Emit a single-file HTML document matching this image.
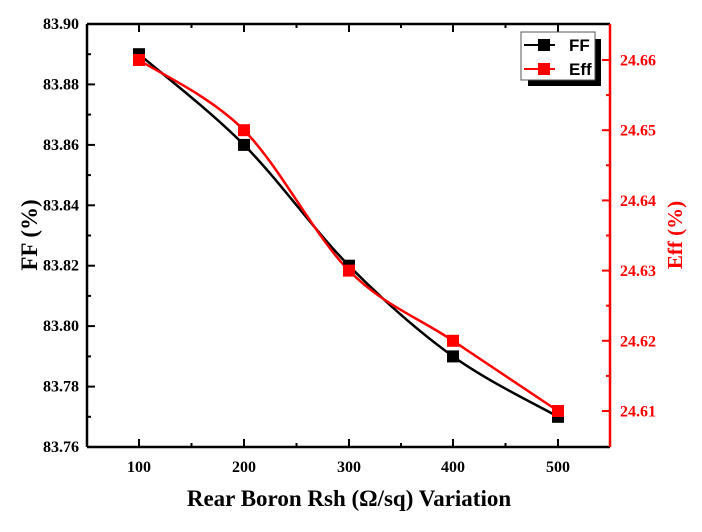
<!DOCTYPE html>
<html><head><style>body{margin:0;background:#fff}svg{display:block}</style></head><body>
<svg width="702" height="532" xmlns="http://www.w3.org/2000/svg" font-family="Liberation Serif, serif" font-weight="bold">
<rect width="702" height="532" fill="#fff"/>
<path d="M139,54.2 C156.5,69.3 209,109.65 244,144.9 C279,180.15 314.2,230.45 349,265.7 C383.8,300.95 418.2,331.2 453,356.4 C487.8,381.6 540.5,406.7 558,416.8" fill="none" stroke="#000" stroke-width="2.5"/>
<path d="M139,60 C156.5,71.7 209,95.1 244,130.2 C279,165.3 314.2,235.5 349,270.6 C383.8,305.7 418.2,317.4 453,340.8 C487.8,364.2 540.5,399.3 558,411" fill="none" stroke="#f00" stroke-width="2.5"/>
<g fill="#000">
<rect x="133" y="48.2" width="12" height="12"/><rect x="238" y="138.9" width="12" height="12"/><rect x="343" y="259.7" width="12" height="12"/><rect x="447" y="350.4" width="12" height="12"/><rect x="552" y="410.8" width="12" height="12"/>
</g>
<g fill="#f00">
<rect x="133" y="54" width="12" height="12"/><rect x="238" y="124.2" width="12" height="12"/><rect x="343" y="264.6" width="12" height="12"/><rect x="447" y="334.8" width="12" height="12"/><rect x="552" y="405" width="12" height="12"/>
</g>
<g stroke="#000" stroke-width="2.5">
<line x1="87" y1="24" x2="610" y2="24"/>
<line x1="87" y1="24" x2="87" y2="447"/>
<line x1="87" y1="447" x2="610" y2="447"/>
</g>
<line x1="610" y1="24" x2="610" y2="447" stroke="#f00" stroke-width="2.5"/>
<g stroke="#000" stroke-width="2">
<line x1="87" y1="24" x2="95" y2="24"/><line x1="87" y1="84.4" x2="95" y2="84.4"/><line x1="87" y1="144.9" x2="95" y2="144.9"/><line x1="87" y1="205.3" x2="95" y2="205.3"/><line x1="87" y1="265.7" x2="95" y2="265.7"/><line x1="87" y1="326.1" x2="95" y2="326.1"/><line x1="87" y1="386.6" x2="95" y2="386.6"/>
<line x1="87" y1="54.2" x2="91" y2="54.2"/><line x1="87" y1="114.6" x2="91" y2="114.6"/><line x1="87" y1="175.1" x2="91" y2="175.1"/><line x1="87" y1="235.5" x2="91" y2="235.5"/><line x1="87" y1="295.9" x2="91" y2="295.9"/><line x1="87" y1="356.4" x2="91" y2="356.4"/><line x1="87" y1="416.8" x2="91" y2="416.8"/>
<line x1="139" y1="447" x2="139" y2="439"/><line x1="244" y1="447" x2="244" y2="439"/><line x1="349" y1="447" x2="349" y2="439"/><line x1="453" y1="447" x2="453" y2="439"/><line x1="558" y1="447" x2="558" y2="439"/>
<line x1="191.5" y1="447" x2="191.5" y2="443"/><line x1="296.5" y1="447" x2="296.5" y2="443"/><line x1="401" y1="447" x2="401" y2="443"/><line x1="505.5" y1="447" x2="505.5" y2="443"/>
<line x1="139" y1="24" x2="139" y2="32"/><line x1="244" y1="24" x2="244" y2="32"/><line x1="349" y1="24" x2="349" y2="32"/><line x1="453" y1="24" x2="453" y2="32"/><line x1="558" y1="24" x2="558" y2="32"/>
<line x1="191.5" y1="24" x2="191.5" y2="28"/><line x1="296.5" y1="24" x2="296.5" y2="28"/><line x1="401" y1="24" x2="401" y2="28"/><line x1="505.5" y1="24" x2="505.5" y2="28"/>
</g>
<g stroke="#f00" stroke-width="2">
<line x1="610" y1="60" x2="602" y2="60"/><line x1="610" y1="130.2" x2="602" y2="130.2"/><line x1="610" y1="200.4" x2="602" y2="200.4"/><line x1="610" y1="270.6" x2="602" y2="270.6"/><line x1="610" y1="340.8" x2="602" y2="340.8"/><line x1="610" y1="411" x2="602" y2="411"/>
<line x1="610" y1="95.1" x2="606" y2="95.1"/><line x1="610" y1="165.3" x2="606" y2="165.3"/><line x1="610" y1="235.5" x2="606" y2="235.5"/><line x1="610" y1="305.7" x2="606" y2="305.7"/><line x1="610" y1="375.9" x2="606" y2="375.9"/>
</g>
<g font-size="16" text-anchor="end" fill="#000">
<text x="79" y="29">83.90</text><text x="79" y="89.4">83.88</text><text x="79" y="149.9">83.86</text><text x="79" y="210.3">83.84</text><text x="79" y="270.7">83.82</text><text x="79" y="331.1">83.80</text><text x="79" y="391.6">83.78</text><text x="79" y="452">83.76</text>
</g>
<g font-size="16" fill="#f00">
<text x="620" y="65.5">24.66</text><text x="620" y="135.7">24.65</text><text x="620" y="205.9">24.64</text><text x="620" y="276.1">24.63</text><text x="620" y="346.3">24.62</text><text x="620" y="416.5">24.61</text>
</g>
<g font-size="16" text-anchor="middle" fill="#000">
<text x="139" y="472">100</text><text x="244" y="472">200</text><text x="349" y="472">300</text><text x="453" y="472">400</text><text x="558" y="472">500</text>
</g>
<text x="349" y="506" font-size="23" text-anchor="middle">Rear Boron Rsh (Ω/sq) Variation</text>
<text transform="translate(37,235) rotate(-90)" font-size="23" text-anchor="middle">FF (%)</text>
<text transform="translate(682,235) rotate(-90)" font-size="21" text-anchor="middle" fill="#f00">Eff (%)</text>
<rect x="528" y="39" width="73" height="47" fill="#000"/>
<rect x="521" y="32" width="74" height="48" fill="#fff" stroke="#555" stroke-width="1"/>
<line x1="524" y1="45" x2="555" y2="45" stroke="#000" stroke-width="2"/>
<rect x="538" y="39" width="12" height="12" fill="#000"/>
<line x1="524" y1="69" x2="555" y2="69" stroke="#f00" stroke-width="2"/>
<rect x="538" y="63" width="12" height="12" fill="#f00"/>
<g font-family="Liberation Sans, sans-serif" font-size="17" fill="#000"><text x="569" y="51">FF</text><text x="569" y="75">Eff</text></g>
</svg>
</body></html>
